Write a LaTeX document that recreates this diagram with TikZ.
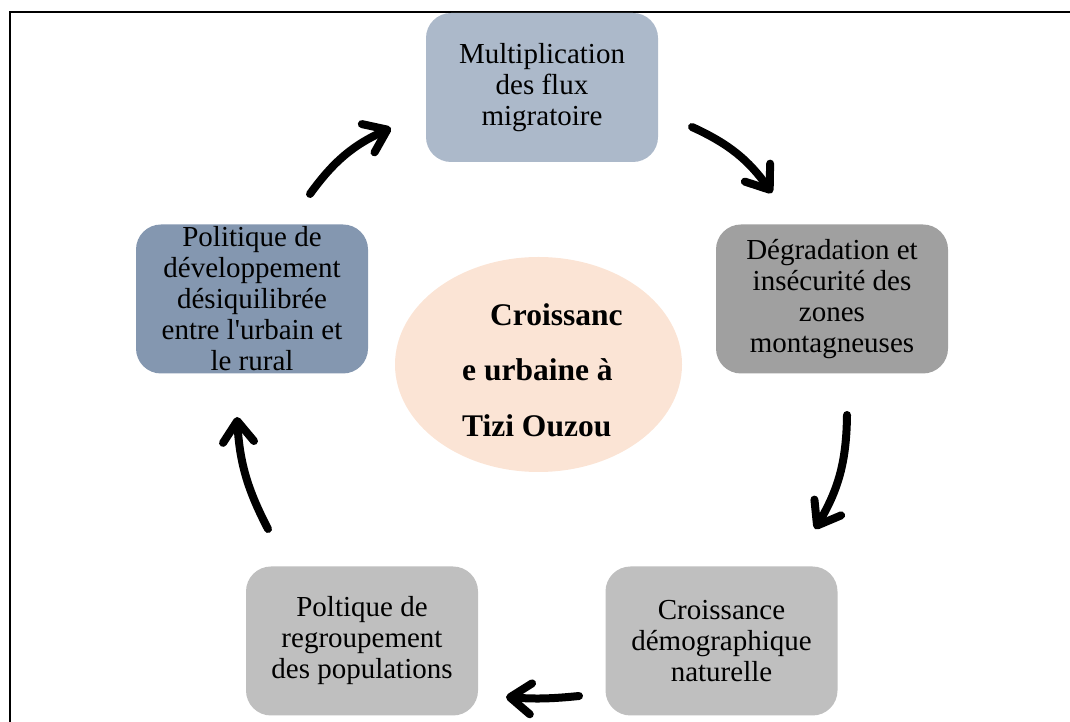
\documentclass[tikz,border=0pt]{standalone}
\usepackage{fontspec}
\setmainfont{Liberation Serif}
\usepackage{xcolor}
\usepackage{tikz}
\usetikzlibrary{shapes.geometric,arrows.meta,positioning}

\definecolor{bluegrey}{HTML}{ACB9CA}
\definecolor{slateblue}{HTML}{8497B0}
\definecolor{darkgrey}{HTML}{A0A0A0}
\definecolor{lightgrey}{HTML}{BFBFBF}
\definecolor{peach}{HTML}{FBE4D5}

\tikzstyle{block} = [rectangle, text=black, align=center, inner sep=0pt,
    minimum width=232pt, minimum height=149pt, rounded corners=25pt,
    font=\fontsize{29}{31}\selectfont]
\tikzstyle{flow} = [line width=8pt, line cap=round,
    -{Straight Barb[length=21pt,width=31pt,round]}]

\begin{document}
\begin{tikzpicture}[x=1pt, y=1pt]

    \useasboundingbox (0,0) rectangle (1070,722);
    % frame
    \draw[line width=2pt] (10,0) -- (10,710) -- (1070,710);

    % Place nodes
	\node [ellipse, fill=peach, minimum width=287pt, minimum height=215pt] (City) at (538.5,357.5) {};
	\node [anchor=north west, inner sep=0pt, align=left, font=\fontsize{31.5}{55.5}\selectfont\bfseries] (CityLabel) at (462,419)
	    {\hspace*{28pt}Croissanc\\e urbaine à\\Tizi Ouzou};

	\node [block, fill=bluegrey] (Migration) at (542,634.5) {Multiplication\\des flux\\migratoire};
	\node [block, fill=darkgrey] (Degradation) at (832,423) {Dégradation et\\insécurité des\\zones\\montagneuses};
	\node [block, fill=lightgrey] (Demographie) at (721.5,81) {Croissance\\démographique\\naturelle};
	\node [block, fill=lightgrey] (Regroupement) at (362,81) {Poltique de\\regroupement\\des populations};
	\node [block, fill=slateblue] (Politique) at (252,423) {Politique de\\développement\\désiquilibrée\\entre l\textquotesingle urbain et\\le rural};

	% arrow ends
	\coordinate (PolMigA) at (310,528);
	\coordinate (PolMigB) at (391,594);
	\coordinate (MigDegA) at (692,595);
	\coordinate (MigDegB) at (772,529);
	\coordinate (DegDemA) at (847,307);
	\coordinate (DegDemB) at (815,193);
	\coordinate (DemRegA) at (579,26);
	\coordinate (DemRegB) at (506,25);
	\coordinate (RegPolA) at (268,193);
	\coordinate (RegPolB) at (237,305);

	\draw[flow] (PolMigA) to [bend left=15] (PolMigB);
	\draw[flow] (MigDegA) to [bend left=15] (MigDegB);
	\draw[flow] (DegDemA) to [bend left=15] (DegDemB);
	\draw[flow] (DemRegA) to [bend left=5] (DemRegB);
	\draw[flow] (RegPolA) to [bend left=12] (RegPolB);

\end{tikzpicture}
\end{document}
